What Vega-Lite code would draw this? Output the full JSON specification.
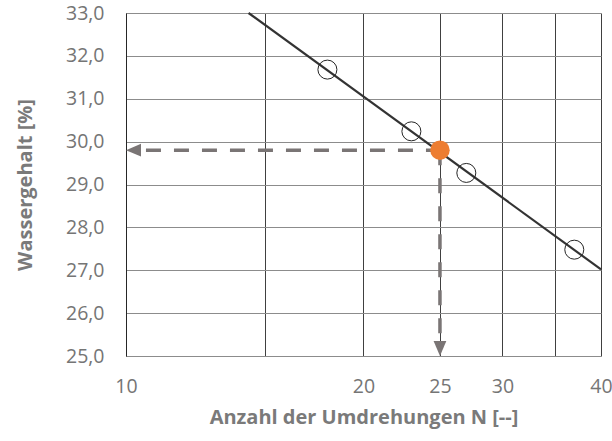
{
  "$schema": "https://vega.github.io/schema/vega-lite/v6.json",
  "autosize": "none",
  "width": 475,
  "height": 343,
  "padding": {"left": 126, "top": 13, "right": 11, "bottom": 85},
  "background": "white",
  "config": {
    "view": {"stroke": null},
    "font": "Open Sans",
    "axis": {
      "labelFont": "Open Sans",
      "labelFontSize": 19.5,
      "labelColor": "#757575",
      "titleFont": "Open Sans",
      "titleFontSize": 20,
      "titleFontWeight": "bold",
      "titleColor": "#7a7a7a",
      "ticks": false,
      "gridWidth": 1,
      "domainWidth": 1
    }
  },
  "datasets": {
    "messwerte": [
      {"N": 18, "w": 31.68},
      {"N": 23, "w": 30.24},
      {"N": 27, "w": 29.27},
      {"N": 37, "w": 27.48}
    ],
    "gerade": [
      {"N": 14.3, "w": 33.0},
      {"N": 40, "w": 27.02}
    ],
    "hilfslinie_h": [
      {"N": 10.6, "w": 29.8},
      {"N": 25, "w": 29.8}
    ],
    "hilfslinie_v": [
      {"N": 25, "w": 29.8},
      {"N": 25, "w": 25.4}
    ],
    "pfeil_links": [{"N": 10, "w": 29.8}],
    "pfeil_unten": [{"N": 25, "w": 25.0}],
    "fliessgrenze": [{"N": 25, "w": 29.8}]
  },
  "encoding": {
    "x": {
      "field": "N",
      "type": "quantitative",
      "scale": {"type": "log", "domain": [10, 40], "nice": false},
      "axis": {
        "title": "Anzahl der Umdrehungen N [--]",
        "values": [10, 15, 20, 25, 30, 35, 40],
        "labelExpr": "datum.value == 15 || datum.value == 35 ? '' : datum.label",
        "format": "d",
        "grid": true,
        "gridColor": "#404040",
        "domainColor": "#8c8c8c",
        "labelPadding": 21,
        "titlePadding": 12,
        "labelFlush": false
      }
    },
    "y": {
      "field": "w",
      "type": "quantitative",
      "scale": {"domain": [25, 33], "nice": false, "zero": false},
      "axis": {
        "title": "Wassergehalt [%]",
        "values": [25, 26, 27, 28, 29, 30, 31, 32, 33],
        "labelExpr": "replace(format(datum.value, '.1f'), '.', ',')",
        "grid": true,
        "gridColor": "#8c8c8c",
        "domainColor": "#262626",
        "labelPadding": 22,
        "titlePadding": 30
      }
    }
  },
  "layer": [
    {
      "data": {"name": "gerade"},
      "mark": {"type": "line", "color": "#333333", "strokeWidth": 2.2}
    },
    {
      "data": {"name": "messwerte"},
      "mark": {"type": "point", "shape": "circle", "size": 361, "filled": false, "stroke": "#262626", "strokeWidth": 1, "opacity": 1}
    },
    {
      "data": {"name": "hilfslinie_h"},
      "mark": {"type": "line", "color": "#7a7575", "strokeWidth": 3.5, "strokeDash": [15, 13]}
    },
    {
      "data": {"name": "hilfslinie_v"},
      "mark": {"type": "line", "color": "#7a7575", "strokeWidth": 3.5, "strokeDash": [15, 13]}
    },
    {
      "data": {"name": "pfeil_links"},
      "mark": {"type": "point", "shape": "M0,0 L2,-0.85 L2,0.85 Z", "size": 225, "filled": true, "color": "#7a7575", "opacity": 1}
    },
    {
      "data": {"name": "pfeil_unten"},
      "mark": {"type": "point", "shape": "M0,0 L-0.85,-2 L0.85,-2 Z", "size": 225, "filled": true, "color": "#7a7575", "opacity": 1}
    },
    {
      "data": {"name": "fliessgrenze"},
      "mark": {"type": "point", "shape": "circle", "size": 380, "filled": true, "color": "#ED7D31", "opacity": 1}
    }
  ]
}
